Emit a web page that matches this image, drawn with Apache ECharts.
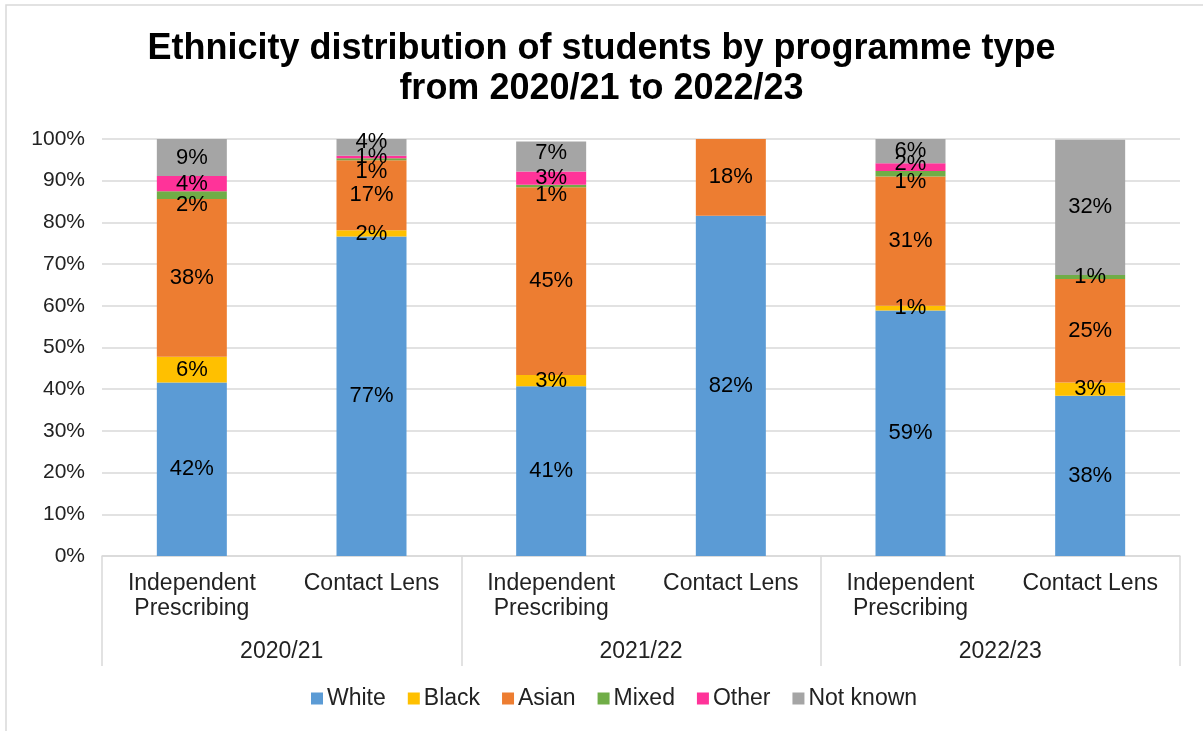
<!DOCTYPE html>
<html>
<head>
<meta charset="utf-8">
<script src="https://cdn.jsdelivr.net/npm/echarts@6/dist/echarts.min.js"></script>
<style>
  html, body { margin: 0; padding: 0; background: #fff; }
  #chart { width: 1203px; height: 731px; }
</style>
</head>
<body>
<div id="chart"></div>
<script>
// Programme bars, in order, within each academic year
const programmes = [
  'Independent\nPrescribing', 'Contact Lens',
  'Independent\nPrescribing', 'Contact Lens',
  'Independent\nPrescribing', 'Contact Lens'
];
const years = ['2020/21', '2021/22', '2022/23'];

// Share of students (%) for each ethnicity group
const white    = [41.6, 76.6, 40.7, 81.6, 58.9, 38.4];
const black    = [6.2, 1.5, 2.7, 0, 1.1, 3.2];
const asian    = [37.8, 16.8, 45.0, 18.4, 31.0, 24.8];
const mixed    = [1.9, 0.5, 0.6, 0, 1.3, 1.0];
const other    = [3.6, 0.6, 3.2, 0, 1.9, 0];
const notKnown = [8.9, 4.0, 7.2, 0, 5.8, 32.4];

const yTicks = { min: 0, max: 100, interval: 10 };

const groups = [
  { name: 'White', values: white, color: '#5B9BD5' },
  { name: 'Black', values: black, color: '#FFC000' },
  { name: 'Asian', values: asian, color: '#ED7D31' },
  { name: 'Mixed', values: mixed, color: '#70AD47' },
  { name: 'Other', values: other, color: '#FF3399' },
  { name: 'Not known', values: notKnown, color: '#A5A5A5' }
];

// Small vertical nudges keep labels on thin slices from colliding
const labelNudges = {
  'Mixed': { 0: 10, 1: 13, 2: 9, 4: 8 },
  'Other': { 4: -3 },
  'Not known': { 1: -5, 2: -4 }
};

const FONT = '"Liberation Sans", Arial, sans-serif';
const GRID = '#D9D9D9';
const TEXT = '#222';

const series = groups.map(g => ({
  name: g.name,
  type: 'bar',
  stack: 'total',
  xAxisIndex: 0,
  barWidth: 70,
  itemStyle: { color: g.color },
  label: {
    show: true,
    position: 'inside',
    color: '#000',
    fontFamily: FONT,
    fontSize: 22,
    formatter: p => (p.value > 0 ? Math.round(p.value) + '%' : '')
  },
  data: g.values.map((v, i) => {
    const dy = (labelNudges[g.name] || {})[i];
    return dy ? { value: v, label: { offset: [0, dy] } } : v;
  })
}));

const chart = echarts.init(document.getElementById('chart'), null, { renderer: 'canvas' });
chart.setOption({
  animation: false,
  backgroundColor: '#fff',
  textStyle: { fontFamily: FONT },
  graphic: [{
    type: 'rect',
    shape: { x: 6, y: 5, width: 1400, height: 900 },
    style: { fill: 'none', stroke: GRID, lineWidth: 1.5 },
    silent: true,
    z: -1
  }],
  title: {
    text: 'Ethnicity distribution of students by programme type\nfrom 2020/21 to 2022/23',
    left: 'center',
    top: 24,
    textStyle: {
      fontFamily: FONT,
      fontSize: 36,
      fontWeight: 'bold',
      color: '#000',
      lineHeight: 40
    }
  },
  legend: {
    bottom: 16,
    left: 306,
    icon: 'rect',
    itemWidth: 12,
    itemHeight: 12,
    itemGap: 22,
    textStyle: { fontFamily: FONT, fontSize: 23, color: TEXT, padding: [0, 0, 0, -1] },
    data: groups.map(g => g.name)
  },
  grid: { left: 102, right: 23, top: 139, bottom: 175 },
  xAxis: [
    {
      type: 'category',
      position: 'bottom',
      data: programmes,
      axisLine: { show: true, lineStyle: { color: GRID, width: 1.5 } },
      axisTick: { show: false },
      axisLabel: {
        interval: 0,
        margin: 15,
        fontFamily: FONT,
        fontSize: 23,
        lineHeight: 25,
        color: TEXT
      }
    },
    {
      type: 'category',
      position: 'bottom',
      gridIndex: 0,
      data: years,
      axisLine: { show: false },
      axisTick: { show: true, length: 110, lineStyle: { color: GRID, width: 1.5 } },
      axisLabel: {
        interval: 0,
        margin: 84,
        fontFamily: FONT,
        fontSize: 23,
        color: TEXT
      }
    }
  ],
  yAxis: {
    type: 'value',
    min: yTicks.min,
    max: yTicks.max,
    interval: yTicks.interval,
    axisLine: { show: false },
    axisTick: { show: false },
    splitLine: { lineStyle: { color: GRID, width: 1.5 } },
    axisLabel: {
      formatter: '{value}%',
      margin: 17,
      fontFamily: FONT,
      fontSize: 21,
      color: TEXT
    }
  },
  series: series
});
</script>
</body>
</html>
